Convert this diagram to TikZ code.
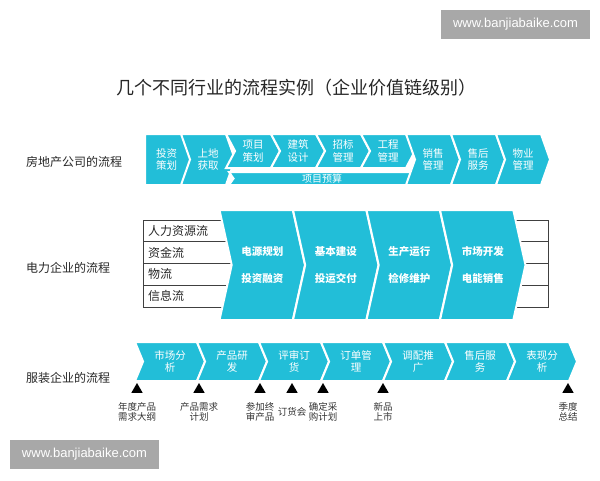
\documentclass[tikz,border=0pt]{standalone}
\usepackage{fontspec}
\setmainfont{Liberation Sans}
\newfontfamily\cjk{Noto Sans CJK SC}
\usepackage{tikz}
\usetikzlibrary{positioning}
\usetikzlibrary{shapes.symbols}
\usetikzlibrary{shapes.geometric}
\usepackage{xcolor}
\definecolor{chevcyan}{RGB}{34,190,216}
\definecolor{markgray}{RGB}{168,168,168}

\begin{document}
\begin{tikzpicture}[x=1pt,y=-1pt,node distance=45pt,on grid,
        every node/.style={font=\cjk},
        chev/.style={signal, signal to=east, signal from=west, fill=chevcyan, draw=white,
            line width=2pt, text=white, align=center, inner sep=0pt},
        hchev/.style={chev, minimum height=51pt, minimum width=54pt, signal pointer angle=141,
            font=\cjk\fontsize{10.5}{12.5}\selectfont},
        pchev/.style={chev, minimum height=110pt, minimum width=85.5pt, signal pointer angle=155,
            font=\cjk\bfseries\fontsize{10.5}{27}\selectfont},
        cchev/.style={chev, minimum height=39pt, minimum width=70pt, signal pointer angle=135,
            font=\cjk\fontsize{10.5}{11.7}\selectfont},
        flow/.style={draw=black!75, line width=0.8pt, minimum height=21.75pt, text width=395pt,
            inner xsep=5pt, inner ysep=0pt, align=left, text=black!85, font=\cjk\fontsize{12}{12}\selectfont},
        tri/.style={regular polygon, regular polygon sides=3, fill=black, minimum size=13pt, inner sep=0pt},
        note/.style={align=center, inner sep=0pt, text=black!80, font=\cjk\fontsize{9.5}{10}\selectfont},
        lab/.style={anchor=west, inner sep=0pt, text=black!85, font=\cjk\fontsize{12}{12}\selectfont},
        wm/.style={fill=markgray, text=white, minimum width=149pt, minimum height=29pt, inner sep=0pt,
            font=\rmfamily\fontsize{13}{13}\selectfont}]

        \useasboundingbox (0,0) rectangle (600,480);

        \node[wm] (W1) at (515.5,24.5) {www.banjiabaike.com};
        \node[wm] (W2) at (84.5,454.5) {www.banjiabaike.com};

        \node[inner sep=0pt, text=black!85, font=\cjk\fontsize{18}{18}\selectfont] (T) at (296,88)
            {几个不同行业的流程实例（企业价值链级别）};

        % real estate
        \node[lab] (L1) at (26,162) {房地产公司的流程};

        \node[hchev, signal from=nowhere, minimum width=52pt] (TZ) at (166.5,159.5) {投资\\策划};
        \node[hchev] (TD) [right=41.5pt of TZ] {上地\\获取};
        \node[hchev, minimum height=34pt, signal pointer angle=124] (XM) [right=of TD, yshift=8.5pt] {项目\\策划};
        \node[hchev, minimum height=34pt, signal pointer angle=124] (JZ) [right=of XM] {建筑\\设计};
        \node[hchev, minimum height=34pt, signal pointer angle=124] (ZB) [right=of JZ] {招标\\管理};
        \node[hchev, minimum height=34pt, signal pointer angle=124] (GC) [right=of ZB] {工程\\管理};
        \node[hchev, minimum height=13pt, minimum width=186pt, signal pointer angle=110,
            font=\cjk\fontsize{10}{10}\selectfont] (YS) [below=27.5pt of ZB, xshift=-21pt] {项目预算};
        \node[hchev] (XS) [right=of GC, yshift=-8.5pt] {销售\\管理};
        \node[hchev] (SH) [right=of XS] {售后\\服务};
        \node[hchev] (WY) [right=of SH] {物业\\管理};

        % power
        \node[lab] (L2) at (26,268) {电力企业的流程};

        \node[flow] (R1) at (345.5,230.875) {人力资源流};
        \node[flow] (R2) [below=21.75pt of R1] {资金流};
        \node[flow] (R3) [below=21.75pt of R2] {物流};
        \node[flow] (R4) [below=21.75pt of R3] {信息流};

        \node[pchev] (DY) at (262.25,265) {电源规划\\投资融资};
        \node[pchev] (JB) [right=73.5pt of DY] {基本建设\\投运交付};
        \node[pchev] (SC) [right=73.5pt of JB] {生产运行\\检修维护};
        \node[pchev] (SK) [right=73.5pt of SC] {市场开发\\电能销售};

        % clothing
        \node[lab] (L3) at (26,378) {服装企业的流程};

        \node[cchev] (FX) at (170,361.5) {市场分\\析};
        \node[cchev] (YF) [right=62pt of FX] {产品研\\发};
        \node[cchev] (DH) [right=62pt of YF] {评审订\\货};
        \node[cchev] (DD) [right=62pt of DH] {订单管\\理};
        \node[cchev] (TP) [right=62pt of DD] {调配推\\广};
        \node[cchev] (FW) [right=62pt of TP] {售后服\\务};
        \node[cchev] (BX) [right=62pt of FW] {表现分\\析};

        \node[tri] (t1) at (137,389.5) {};
        \node[tri] (t2) at (199,389.5) {};
        \node[tri] (t3) at (260,389.5) {};
        \node[tri] (t4) at (292,389.5) {};
        \node[tri] (t5) at (323,389.5) {};
        \node[tri] (t6) at (383,389.5) {};
        \node[tri] (t7) at (568,389.5) {};

        \node[note] (n1) [below=22.5pt of t1] {年度产品\\需求大纲};
        \node[note] (n2) [below=22.5pt of t2] {产品需求\\计划};
        \node[note] (n3) [below=22.5pt of t3] {参加终\\审产品};
        \node[note] (n4) [below=22pt of t4] {订货会};
        \node[note] (n5) [below=22.5pt of t5] {确定采\\购计划};
        \node[note] (n6) [below=22.5pt of t6] {新品\\上市};
        \node[note] (n7) [below=22.5pt of t7] {季度\\总结};

      \end{tikzpicture}
\end{document}
